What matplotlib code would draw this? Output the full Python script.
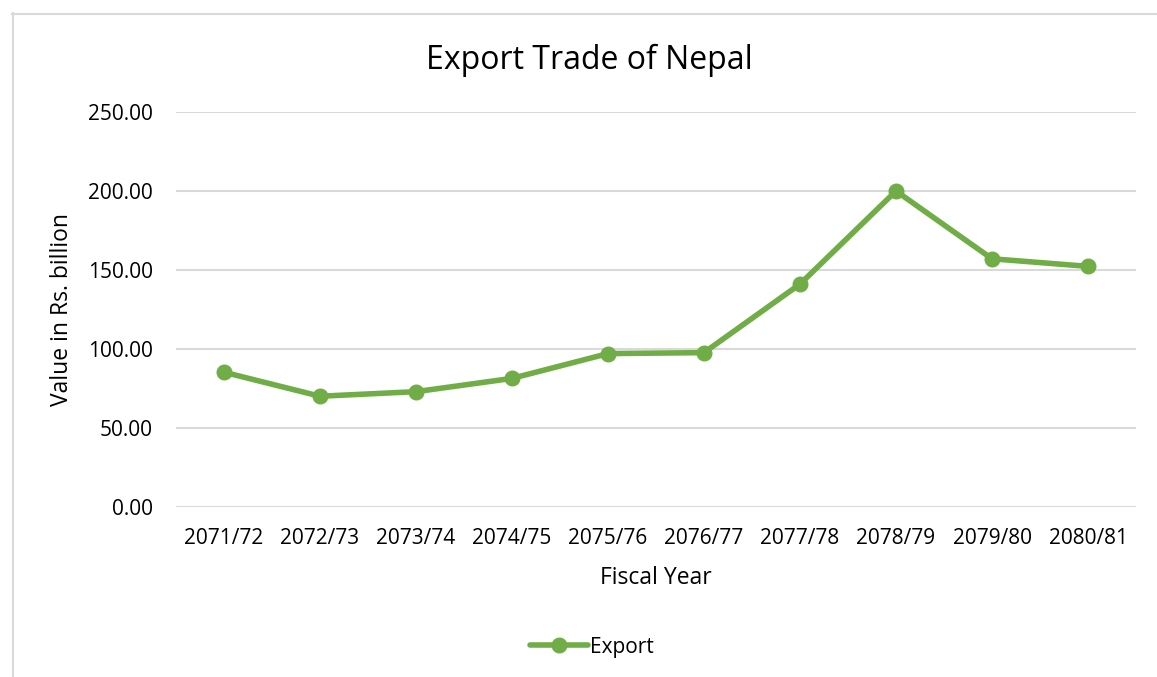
import matplotlib
matplotlib.use("Agg")
import matplotlib.pyplot as plt
from matplotlib.lines import Line2D

years = ["2071/72", "2072/73", "2073/74", "2074/75", "2075/76",
         "2076/77", "2077/78", "2078/79", "2079/80", "2080/81"]
export = [85.3, 70.1, 73.0, 81.4, 97.1, 97.7, 141.1, 200.0, 157.1, 152.3]
yticks = [0, 50, 100, 150, 200, 250]

plt.rcParams['font.family'] = ['Open Sans', 'DejaVu Sans']
W, H = 1157, 677
fig = plt.figure(figsize=(W / 100, H / 100), dpi=100)
ax = fig.add_axes([176 / W, 1 - 507 / H, 960 / W, 395 / H])

green = "#70AD47"
x = list(range(len(years)))
ax.plot(x, export, color=green, linewidth=4, marker="o", markersize=10.5,
        label="Export", solid_capstyle="round", solid_joinstyle="round")

ax.set_xlim(-0.5, len(years) - 0.5)
ax.set_ylim(0, 250)
ax.set_yticks(yticks)
ax.set_yticklabels([f"{v:.2f}" for v in yticks])
ax.set_xticks(x)
ax.set_xticklabels(years)
ax.yaxis.grid(True, color="#D9D9D9", linewidth=1.5)
ax.set_axisbelow(True)
for s in ax.spines.values():
    s.set_visible(False)
ax.tick_params(axis="both", length=0, labelsize=15, colors="black")
ax.tick_params(axis="y", pad=16.5)
ax.tick_params(axis="x", pad=15)

ax.set_xlabel("Fiscal Year", fontsize=16.5, labelpad=12)
ax.set_ylabel("Value in Rs. billion", fontsize=16.5, labelpad=10)
fig.text(589 / W, 1 - 60 / H, "Export Trade of Nepal", fontsize=23,
         ha="center", va="center")

leg = fig.legend(loc="center", bbox_to_anchor=(592 / W, 1 - 647 / H),
                 frameon=False, fontsize=15, handlelength=2.8,
                 handletextpad=0.1)

fig.add_artist(Line2D([12 / W, 1.0], [1 - 13.5 / H, 1 - 13.5 / H],
                      transform=fig.transFigure, color="#D9D9D9", linewidth=1.5))
fig.add_artist(Line2D([13 / W, 13 / W], [1 - 13 / H, 0],
                      transform=fig.transFigure, color="#D9D9D9", linewidth=1.5))

fig.savefig("out.png", dpi=100)
